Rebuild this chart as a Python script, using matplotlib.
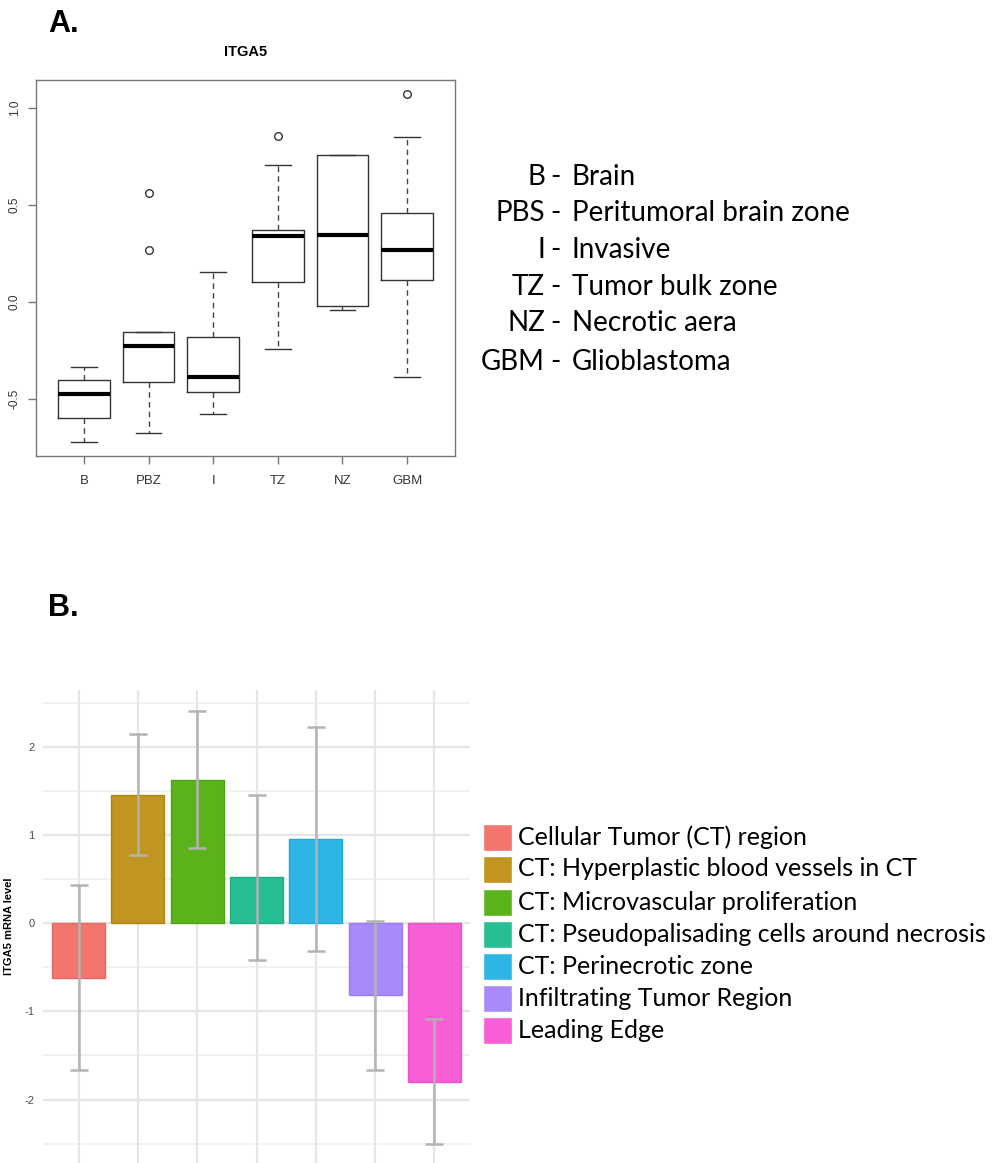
import matplotlib
matplotlib.use("Agg")
import matplotlib.pyplot as plt
from matplotlib.patches import Rectangle

# ---------------- Data ----------------
# Panel A: box plot statistics
box_groups = ["B", "PBZ", "I", "TZ", "NZ", "GBM"]
box_whislo = [-0.725, -0.678, -0.577, -0.245, -0.043, -0.387]
box_q1 = [-0.601, -0.412, -0.467, 0.102, -0.022, 0.110]
box_med = [-0.474, -0.227, -0.387, 0.339, 0.342, 0.268]
box_q3 = [-0.404, -0.158, -0.182, 0.370, 0.754, 0.456]
box_whishi = [-0.338, -0.158, 0.151, 0.703, 0.756, 0.847]
box_fliers = [[], [0.562, 0.268], [], [0.856], [], [1.069]]
box_title = "ITGA5"
box_yticks = [-0.5, 0.0, 0.5, 1.0]

abbr = ["B", "PBS", "I", "TZ", "NZ", "GBM"]
abbr_desc = ["Brain", "Peritumoral brain zone", "Invasive", "Tumor bulk zone",
             "Necrotic aera", "Glioblastoma"]

# Panel B: bar chart
bar_labels = ["Cellular Tumor (CT) region",
              "CT: Hyperplastic blood vessels in CT",
              "CT: Microvascular proliferation",
              "CT: Pseudopalisading cells around necrosis",
              "CT: Perinecrotic zone",
              "Infiltrating Tumor Region",
              "Leading Edge"]
bar_means = [-0.617, 1.458, 1.628, 0.521, 0.956, -0.816, -1.796]
bar_err = [1.05, 0.684, 0.78, 0.935, 1.272, 0.846, 0.705]
bar_colors = ["#F2756E", "#C09620", "#5BB31C", "#27BE93", "#2DB5E5", "#A98AFA", "#F85ED5"]
bar_yticks = [-2, -1, 0, 1, 2]
bar_ylabel = "ITGA5 mRNA level"

# ---------------- Figure ----------------
W, H = 995, 1163
fig = plt.figure(figsize=(W / 100, H / 100), dpi=100)

def px_axes(left, top, right, bottom):
    return fig.add_axes([left / W, 1 - bottom / H, (right - left) / W, (bottom - top) / H])

LEG_FONT = ["Lato", "DejaVu Sans"]

# ---------------- Panel A ----------------
axA = px_axes(36, 80, 455, 456)
stats = []
for i, g in enumerate(box_groups):
    stats.append(dict(label=g, whislo=box_whislo[i], q1=box_q1[i], med=box_med[i],
                      q3=box_q3[i], whishi=box_whishi[i], fliers=box_fliers[i]))
axA.bxp(stats, positions=range(1, 7), widths=0.8, showfliers=True,
        boxprops=dict(color="#333333", linewidth=1.0),
        medianprops=dict(color="black", linewidth=3.0, solid_capstyle="butt"),
        whiskerprops=dict(color="#444444", linewidth=1.0, linestyle=(0, (4, 3))),
        capprops=dict(color="#333333", linewidth=1.0),
        capwidths=0.4,
        flierprops=dict(marker="o", markersize=5.5, markerfacecolor="none",
                        markeredgecolor="#333333", markeredgewidth=1.0))
axA.set_xlim(0.26, 6.74)
axA.set_ylim(-0.795, 1.143)
axA.set_yticks(box_yticks)
axA.set_yticklabels([f"{v:.1f}" for v in box_yticks], rotation=90, va="center",
                    fontsize=8.5, color="#333333", family="Liberation Sans")
axA.set_xticks(range(1, 7))
axA.set_xticklabels(box_groups, fontsize=9.5, color="#333333", family="Liberation Sans")
for s in axA.spines.values():
    s.set_color("#777777")
    s.set_linewidth(1.0)
axA.tick_params(axis="both", color="#777777", length=6, width=1.0)
axA.tick_params(axis="y", pad=5)
axA.tick_params(axis="x", pad=8)
axA.set_title(box_title, fontsize=10.5, fontweight="bold", family="Liberation Sans", pad=17)

fig.text(48 / W, 1 - 24 / H, "A.", fontsize=22, fontweight="bold",
         family="Liberation Sans", va="center", ha="left")
fig.text(48 / W, 1 - 608 / H, "B.", fontsize=22, fontweight="bold",
         family="Liberation Sans", va="center", ha="left")

rows_y = [177, 213, 250, 287, 323, 362]
for ab, d, yy in zip(abbr, abbr_desc, rows_y):
    fig.text(545 / W, 1 - yy / H, ab, fontsize=20, family=LEG_FONT, ha="right", va="center")
    fig.text(550 / W, 1 - yy / H, "-", fontsize=20, family=LEG_FONT, ha="left", va="center")
    fig.text(572 / W, 1 - yy / H, d, fontsize=20, family=LEG_FONT, ha="left", va="center")

# ---------------- Panel B ----------------
axB = px_axes(43, 690, 470, 1163)
x = list(range(1, len(bar_means) + 1))
axB.set_xlim(0.4, 7.6)
axB.set_ylim(-2.72, 2.645)
for v in [-2.5, -1.5, -0.5, 0.5, 1.5, 2.5]:
    axB.axhline(v, color="#f0f0f0", lw=1.2, zorder=0)
for v in bar_yticks:
    axB.axhline(v, color="#e6e6e6", lw=1.6, zorder=0)
for xi in x:
    axB.axvline(xi, color="#e6e6e6", lw=1.6, zorder=0)

edge_colors = ["#E36A63", "#AE8614", "#4FA312", "#1FAE85", "#22A6D6", "#9A7DEE", "#E852C6"]
axB.bar(x, bar_means, width=0.89, color=bar_colors, edgecolor=edge_colors,
        linewidth=1.0, zorder=2)
axB.errorbar(x, bar_means, yerr=bar_err, fmt="none", ecolor="#b3b3b3",
             elinewidth=1.8, capsize=6.5, capthick=1.8, zorder=3)

axB.set_yticks(bar_yticks)
axB.set_yticklabels([str(v) for v in bar_yticks], fontsize=8, color="#4d4d4d",
                    family="Liberation Sans")
axB.set_xticks([])
axB.tick_params(axis="y", length=0, pad=6)
for s in axB.spines.values():
    s.set_visible(False)
axB.set_ylabel(bar_ylabel, fontsize=8, fontweight="bold", family="Liberation Sans",
               labelpad=8)

# legend for panel B
leg_rows = [837, 869, 902, 934, 966, 998, 1030]
for lab, c, ec, yy in zip(bar_labels, bar_colors, edge_colors, leg_rows):
    rect = Rectangle((483 / W, 1 - (yy + 13.5) / H), 29.5 / W, 27 / H,
                     transform=fig.transFigure, facecolor=c, edgecolor="white",
                     linewidth=1.0)
    fig.patches.append(rect)
    fig.text(518 / W, 1 - yy / H, lab, fontsize=18, family=LEG_FONT,
             ha="left", va="center")

fig.savefig("out.png", dpi=100)
